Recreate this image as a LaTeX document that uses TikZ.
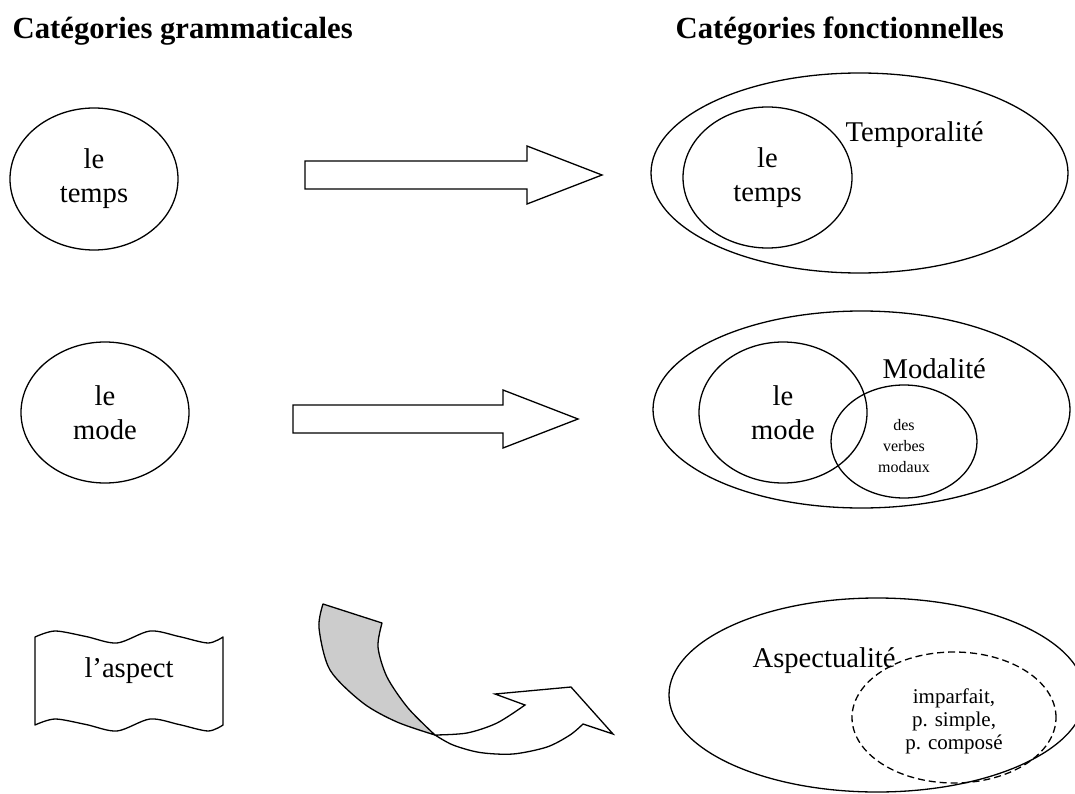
\documentclass[tikz,border=0pt]{standalone}
\usepackage{fontspec}
\setmainfont{Liberation Serif}
\usetikzlibrary{shapes.geometric}
\begin{document}
\begin{tikzpicture}[x=1pt,y=-1pt,
  line width=1.3pt,
  ell/.style={draw, ellipse, inner sep=0pt, align=center, font=\fontsize{28.6}{34}\selectfont},
  lbl/.style={anchor=base west, inner sep=0pt, font=\fontsize{28.6}{34}\selectfont},
  smalltxt/.style={inner sep=0pt, align=center},
  heading/.style={anchor=base west, inner sep=0pt, font=\fontsize{30.7}{36}\selectfont\bfseries},
  blockarrow/.style={draw, fill=white, line join=miter},
  ribbonback/.style={draw, fill=black!20, line join=round},
  ribbonfront/.style={draw, fill=white, line join=miter},
]
\useasboundingbox (0,0) rectangle (1075,794);
\clip (0,0) rectangle (1075,794);

% headings
\node[heading] (hgram) at (12,39) {Catégories grammaticales};
\node[heading] (hfonc) at (675,39) {Catégories fonctionnelles};

% left column
\node[ell, minimum width=168, minimum height=142] (temps1) at (94,179) {le\\temps};
\node[ell, minimum width=168, minimum height=141] (mode1) at (105,412.5) {le\\mode};

% punched-tape box
\draw[line join=round] plot[smooth] coordinates {(35,637) (55,631) (86,636.5) (117,643) (150,631) (179,636.5) (208,643) (223,637)}
  -- plot[smooth] coordinates {(223,725) (208,731) (179,724.5) (150,719) (117,731) (86,724.5) (55,719) (35,725)} -- cycle;
\node[anchor=base, inner sep=0pt, font=\fontsize{28.6}{34}\selectfont] (aspect) at (129,677) {l’aspect};

% block arrows
\draw[blockarrow] (305,161) -- (527,161) -- (527,146) -- (602,175) -- (527,204) -- (527,189) -- (305,189) -- cycle;
\draw[blockarrow] (293,405) -- (503,405) -- (503,390) -- (578,419) -- (503,448) -- (503,433) -- (293,433) -- cycle;

% curved ribbon arrow
\path[ribbonback] plot[smooth] coordinates {(323,604) (319,628) (330,670) (363,703) (397,722) (435,735)}
  -- plot[smooth] coordinates {(435,735) (408,708) (387,677) (378,647) (382,623)} -- cycle;
\path[ribbonfront] plot[smooth] coordinates {(435,735) (467,733) (497,723) (525,705)}
  -- (495,694) -- (571,687) -- (613,734) -- (583,724)
  -- plot[smooth] coordinates {(583,724) (570,735) (547,747) (513,754) (480,752.5) (453,745) (435,735)} -- cycle;

% Temporalité
\node[ell, minimum width=417, minimum height=200] (temporalite) at (859.5,173) {};
\node[ell, minimum width=169, minimum height=141] (temps2) at (767.5,177.5) {le\\temps};
\node[lbl] (ltemp) at (845,142) {Temporalité};

% Modalité
\node[ell, minimum width=417, minimum height=197] (modalite) at (861.5,409.5) {};
\node[ell, minimum width=168, minimum height=141] (mode2) at (783,412.5) {le\\mode};
\node[ell, minimum width=146, minimum height=113] (modaux) at (904,441.5) {};
\node[smalltxt, font=\fontsize{16}{21}\selectfont] (tmodaux) at (904,446) {des\\verbes\\modaux};
\node[lbl] (lmod) at (882,378) {Modalité};

% Aspectualité
\node[ell, minimum width=416, minimum height=194] (aspectualite) at (877,695) {};
\node[ell, dash pattern=on 7pt off 4pt, minimum width=204, minimum height=131] (formes) at (954,717.5) {};
\node[smalltxt, font=\fontsize{21}{23}\selectfont] (tformes) at (954,721.5) {imparfait,\\p. simple,\\p. composé};
\node[lbl] (lasp) at (752,667) {Aspectualité};
\end{tikzpicture}
\end{document}
